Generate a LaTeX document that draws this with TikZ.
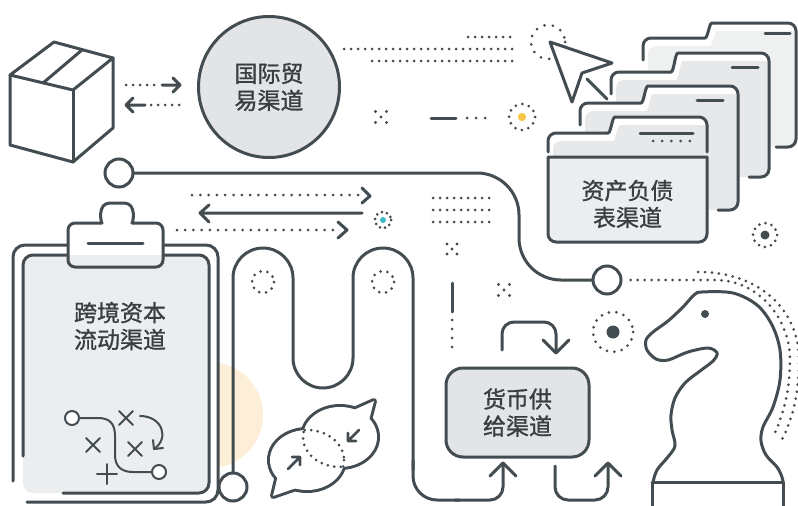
\documentclass[tikz,border=0pt]{standalone}
\usepackage{fontspec}
\newfontfamily\cjk{Noto Sans CJK SC}[FakeBold=1.2]
\usetikzlibrary{calc}
\definecolor{ink}{HTML}{434C50}
\definecolor{txt}{HTML}{393E41}
\definecolor{panel}{HTML}{E2E4E5}
\definecolor{sheet}{HTML}{ECEDEE}
\definecolor{fold}{HTML}{E7E8E9}
\definecolor{foldback}{HTML}{EFF0F0}
\definecolor{sun}{HTML}{FDEFD7}
\definecolor{gold}{HTML}{F7C547}
\definecolor{teal}{HTML}{3CB9C4}

\tikzset{
  ln/.style={draw=ink, line width=3pt, line cap=round, line join=round},
  fine/.style={draw=ink, line width=2pt, line cap=round, line join=round},
  dotln/.style={draw=ink, line width=3pt, line cap=round, dash pattern=on 0pt off 7pt},
  cjklabel/.style={font=\cjk\fontsize{23}{27}\selectfont, text=txt, align=center},
  hub/.style={circle, draw=ink, line width=3pt, fill=white, minimum size=28pt, inner sep=0pt},
  dothub/.style={circle, fine, fill=white, minimum size=14pt, inner sep=0pt},
}

% closed outline of a folder: left, top, tab start, tab top, right, bottom
\newcommand\foldshape[6]{(#1,#6) -- (#1,#2) -- (#3,#2) .. controls (#3+11,#2) and (#3+12,#4) .. (#3+23,#4) -- (#5,#4) -- (#5,#6) -- cycle}
% a folder seen from behind: white body, offset tint, open outline
\newcommand\folder[7]{%
  \fill[white, rounded corners=8] \foldshape{#1}{#2}{#3}{#4}{#5}{#6};
  \begin{scope}
    \clip[rounded corners=8] \foldshape{#1}{#2}{#3}{#4}{#5}{#6};
    \fill[#7, rounded corners=8, shift={(5,8)}] \foldshape{#1}{#2}{#3}{#4}{#5}{#6};
  \end{scope}
  \draw[ln, rounded corners=8] (#1,#2+22) -- (#1,#2) -- (#3,#2) .. controls (#3+11,#2) and (#3+12,#4) .. (#3+23,#4) -- (#5,#4) -- (#5,#6) -- (#5-20,#6);
}
% five-dot sparkle
\newcommand\sparkle[3]{%
  \fill[ink] (#1-#3,#2-#3) circle[radius=1.7] (#1+#3,#2-#3) circle[radius=1.7]
    (#1,#2) circle[radius=1.7] (#1-#3,#2+#3) circle[radius=1.7] (#1+#3,#2+#3) circle[radius=1.7];
}
% small cross used on the tactics sheet
\newcommand\crossmark[2]{\draw[fine] (#1-7,#2-7) -- (#1+7,#2+7) (#1-7,#2+7) -- (#1+7,#2-7);}
% speech bubbles: bodies and tails
\newcommand\bodyleft{(307,460) ellipse[x radius=37, y radius=30]}
\newcommand\tailleft{(279,471) -- (273,496) -- (302,486) -- (300,468) -- cycle}
\newcommand\bodyright{(340,437) ellipse[x radius=37, y radius=30]}
\newcommand\tailright{(368,424) -- (374,401) -- (347,413) -- cycle}

\begin{document}
\begin{tikzpicture}[x=1pt,y=-1pt]
\useasboundingbox (0,0) rectangle (798,506);
\clip (0,0) rectangle (798,506);

% ---------- parcel and trade arrows ----------
\draw[ln, fill=white] (54,42) -- (10,75) -- (73,90) -- (113,58) -- cycle;
\draw[ln] (10,75) -- (10,145) -- (73,162) -- (113,128) -- (113,58);
\draw[ln] (73,90) -- (73,162);
\draw[ln] (82,50) -- (43,83);

\draw[dotln] (126,85) -- (156,85);
\draw[ln] (162,85) -- (180,85) (173,78) -- (180,85) -- (173,92);
\draw[ln] (126,105) -- (145,105) (133,98) -- (126,105) -- (133,112);
\draw[dotln] (151,105) -- (180,105);

\node[circle, draw=ink, line width=3pt, fill=panel, minimum size=141pt, cjklabel] (trade) at (269,87) {国际贸\\易渠道};

% ---------- dotted streaks and markers at the top ----------
\draw[dotln] (468,37) -- (513,37);
\draw[dotln] (344,49) -- (513,49);
\draw[dotln] (372,61) -- (513,61);
\sparkle{381}{117}{5.5}
\draw[ln] (431,118) -- (456,118);
\draw[dotln, dash pattern=on 0pt off 9pt] (467,118) -- (486,118);
\draw[dotln, dash pattern=on 0pt off 6.8pt] (522,117) circle[radius=13];
\fill[gold] (522,117) circle[radius=4.2];

% ---------- pointer ----------
\draw[dotln, dash pattern=on 0pt off 8.5pt] (548,42) circle[radius=17];
\draw[ln, fill=white] (550,42) -- (612,63) -- (582,73) -- (572,102) -- cycle;
\draw[ln] (587,79) -- (607,99);

% ---------- stacked folders ----------
\folder{643}{38}{697}{23}{796}{147}{foldback}
\draw[ln] (765,33) -- (790,33);
\folder{611}{72}{663}{53}{769}{177}{fold}
\draw[ln] (732,67) -- (758,67);
\folder{580}{103}{633}{86}{738}{210}{fold}
\draw[ln] (697,100) -- (723,100);
% front folder
\fill[white, rounded corners=8] (548,157) -- (548,133) -- (600,133) .. controls (611,133) and (612,117) .. (623,117) -- (707,117) -- (707,157) -- cycle;
\begin{scope}
  \clip[rounded corners=8] (548,157) -- (548,133) -- (600,133) .. controls (611,133) and (612,117) .. (623,117) -- (707,117) -- (707,157) -- cycle;
  \fill[fold, rounded corners=8, shift={(5,8)}] (548,160) -- (548,133) -- (600,133) .. controls (611,133) and (612,117) .. (623,117) -- (707,117) -- (707,160) -- cycle;
\end{scope}
\draw[ln, rounded corners=8] (548,152) -- (548,133) -- (600,133) .. controls (611,133) and (612,117) .. (623,117) -- (707,117) -- (707,152);
\draw[ln] (640,133) -- (693,133);
\draw[dotln, dash pattern=on 0pt off 9.2pt] (653,141) -- (691,141);
\draw[ln, fill=sheet] (548,157) -- (707,157) -- (707,234) .. controls (707,238.4) and (703.4,242) .. (699,242)
  -- (556,242) .. controls (551.6,242) and (548,238.4) .. (548,234) -- cycle;
\node[cjklabel] (sheetlabel) at (627.5,204) {资产负债\\表渠道};

\draw[dotln, dash pattern=on 0pt off 6.3pt] (765,235) circle[radius=12];
\fill[ink] (765,235) circle[radius=4.5];

% ---------- main route ----------
\node[hub] (hubA) at (119,173) {};
\node[hub] (hubB) at (607,280) {};
\draw[ln, rounded corners=42] (hubA.east) -- (519,173) -- (519,280) -- (hubB.west);

% ---------- capital-flow arrows ----------
\draw[dotln, dash pattern=on 0pt off 8.3pt] (192,195) -- (358,195);
\draw[ln] (362,188) -- (370,196) -- (362,203);
\draw[ln] (362,213) -- (201,213) (209,205) -- (200,213) -- (209,222);
\draw[dotln, dash pattern=on 0pt off 8.2pt] (177,230) -- (333,230);
\draw[ln] (338,222) -- (347,230) -- (338,238);
\draw[dotln, dash pattern=on 0pt off 5.2pt] (383,220) circle[radius=8];
\fill[teal] (383,220) circle[radius=3];

\draw[dotln] (433,198) -- (491,198);
\draw[dotln] (433,210) -- (491,210);
\draw[dotln] (433,222) -- (491,222);
\sparkle{452}{249}{5}
\sparkle{504}{290}{5.5}
\draw[ln] (452,283) -- (452,312);
\draw[dotln, dash pattern=on 0pt off 9pt] (452,320) -- (452,348);

% ---------- clipboard ----------
\fill[sun] (210,415) circle[radius=53];
\fill[white, rounded corners=12] (13,245) rectangle (218,502);
\fill[sheet, rounded corners=10] (23,255) rectangle (209,493);
\draw[ln, rounded corners=12] (13,481) -- (13,245) -- (218,245) -- (218,502) -- (27,502);
\draw[ln, rounded corners=10] (23,456) -- (23,255) -- (209,255) -- (209,493) -- (63,493);
\fill[white, rounded corners=7] (68,267) -- (68,223) -- (95,223) .. controls (101,223) and (97,203) .. (117,203)
  .. controls (137,203) and (133,223) .. (139,223) -- (163,223) -- (163,267) -- cycle;
\begin{scope}
  \clip[rounded corners=7] (68,267) -- (68,223) -- (95,223) .. controls (101,223) and (97,203) .. (117,203)
    .. controls (137,203) and (133,223) .. (139,223) -- (163,223) -- (163,267) -- cycle;
  \fill[sheet] (60,255) rectangle (170,280);
\end{scope}
\draw[ln, rounded corners=7] (68,267) -- (68,223) -- (95,223) .. controls (101,223) and (97,203) .. (117,203)
  .. controls (137,203) and (133,223) .. (139,223) -- (163,223) -- (163,267) -- cycle;
\draw[ln] (88,243) -- (143,243);
\node[cjklabel] (flowlabel) at (120,326) {跨境资本\\流动渠道};

% tactics sketch
\node[dothub] (p1) at (72,418) {};
\node[dothub] (p2) at (159,472) {};
\draw[fine] (p1.east) -- (98,418) .. controls (110,418) and (115,424) .. (115,436) -- (115,455)
  .. controls (115,466) and (121,472) .. (133,472) -- (p2.west);
\crossmark{126}{418}
\crossmark{93}{445}
\crossmark{135}{449}
\draw[fine] (107,464) -- (107,484) (97,474) -- (117,474);
\draw[fine] (140,416) .. controls (162,416) and (170,438) .. (154,449);
\draw[fine] (153,440) -- (154,449) -- (163,448);

% ---------- winding channel ----------
\node[hub] (hubC) at (233,487) {};
\draw[dotln, dash pattern=on 0pt off 7pt] (263,282) circle[radius=11];
\draw[dotln, dash pattern=on 0pt off 7pt] (383,282) circle[radius=11];
\draw[ln, rounded corners=30] (hubC.north) -- (233,248) -- (293,248) -- (293,388) -- (353,388) -- (353,248) -- (413,248) -- (413,470);
\draw[ln, rounded corners=24] (413,460) -- (413,500) -- (460,500);
\draw[ln, rounded corners=13] (455,500) -- (503,500) -- (503,463);
\draw[ln] (490,476) -- (503,463) -- (516,476);

% ---------- money supply ----------
\node[draw=ink, line width=3pt, fill=panel, rounded corners=17pt, minimum width=143pt, minimum height=89pt, cjklabel] (money) at (517.5,412.5) {货币供\\给渠道};
\draw[ln, rounded corners=12] (502,350) -- (502,322) -- (556,322) -- (556,352);
\draw[ln] (543,340) -- (556,353) -- (569,340);
\draw[ln, rounded corners=13] (555,466) -- (555,500) -- (608,500) -- (608,464);
\draw[ln] (595,476) -- (608,463) -- (621,476);

% ---------- speech bubbles ----------
% a wide stroke under white fills leaves only the outer contour of the pair
\draw[draw=ink, line width=6pt, line join=round] \bodyleft \tailleft \bodyright \tailright;
\fill[white] \bodyleft;
\fill[white] \tailleft;
\fill[white] \bodyright;
\fill[white] \tailright;
\begin{scope}
  \clip \bodyright;
  \draw[dotln, dash pattern=on 0pt off 6.5pt] \bodyleft;
\end{scope}
\begin{scope}
  \clip \bodyleft;
  \draw[dotln, dash pattern=on 0pt off 6.5pt] \bodyright;
\end{scope}
\draw[ln, line width=2.6pt] (288,469) -- (300,457) (292,457) -- (300,457) -- (300,465);
\draw[ln, line width=2.6pt] (359,430) -- (348,441) (356,441) -- (348,441) -- (348,433);

% ---------- knight ----------
\draw[dotln, dash pattern=on 0pt off 7.5pt] (613,332) circle[radius=20];
\fill[ink] (613,332) circle[radius=6.5];
\draw[dotln] ($(hubB.east)+(8,0)$) -- (715,280) .. controls (760,280) and (790,320) .. (790,360)
  .. controls (790,395) and (781,420) .. (773,437);
\draw[dotln] (698,272) .. controls (760,272) and (799,310) .. (799,360)
  .. controls (799,400) and (790,425) .. (780,443);
\draw[ln, fill=white] plot[smooth, tension=0.55] coordinates {(653,482) (657,470) (667,458) (675,446) (672,430)
  (671,415) (675,398) (685,383) (700,371) (713,361) (717,353) (708,348) (688,352) (668,360) (656,359)
  (647,350) (646,340) (653,332) (668,321) (683,307) (694,295) (702,292) (733,293) (757,305) (772,325)
  (780,350) (780,380) (773,407) (763,427) (761,441) (766,455) (777,467) (782,477) (783,482)};
\draw[ln] (652,482) -- (783,482) (652,482) -- (652,512) (783,482) -- (783,512);
\fill[ink] (705,314) circle[radius=4];

\end{tikzpicture}
\end{document}
